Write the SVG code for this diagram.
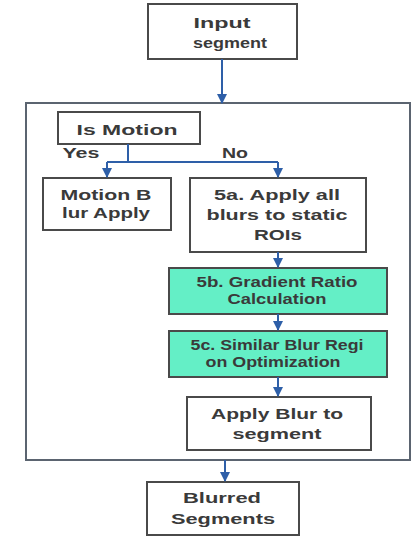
<svg xmlns="http://www.w3.org/2000/svg" width="411" height="538" viewBox="0 0 411 538">
<defs>
<style>
.box{fill:#ffffff;stroke:#4a4a4a;stroke-width:2}
.teal{fill:#64EFC6;stroke:#4a4a4a;stroke-width:2}
.frame{fill:#ffffff;stroke:#5b6470;stroke-width:2}
text{font-family:"Liberation Sans",Arial,sans-serif;font-weight:bold;font-size:15px;fill:#3a3a3a;text-anchor:middle}
.c{fill:none;stroke:#2E5FA8;stroke-width:2}
</style>
<marker id="ah" viewBox="0 0 10 10" refX="9" refY="5" markerWidth="5" markerHeight="5" orient="auto" markerUnits="strokeWidth">
<path d="M0,0 L10,5 L0,10 z" fill="#2E5FA8"/>
</marker>
</defs>
<rect width="411" height="538" fill="#ffffff"/>
<g id="container"><rect class="frame" x="26" y="103" width="384" height="357"/></g>
<g id="input"><rect class="box" x="148" y="4" width="149" height="55"/>
<text x="222" y="28" textLength="57" lengthAdjust="spacingAndGlyphs">Input</text>
<text x="230" y="48" textLength="74" lengthAdjust="spacingAndGlyphs">segment</text></g>
<g id="ismotion"><rect class="box" x="58" y="112" width="142" height="32"/>
<text x="127" y="135" textLength="101" lengthAdjust="spacingAndGlyphs">Is Motion</text></g>
<g id="motionblur"><rect class="box" x="43" y="178" width="128" height="52"/>
<text x="106" y="200" textLength="91" lengthAdjust="spacingAndGlyphs">Motion B</text>
<text x="106" y="218" textLength="88" lengthAdjust="spacingAndGlyphs">lur Apply</text></g>
<g id="n5a"><rect class="box" x="190" y="178" width="176" height="74"/>
<text x="277" y="200" textLength="126" lengthAdjust="spacingAndGlyphs">5a. Apply all</text>
<text x="277" y="220" textLength="141" lengthAdjust="spacingAndGlyphs">blurs to static</text>
<text x="278" y="240" textLength="48" lengthAdjust="spacingAndGlyphs">ROIs</text></g>
<g id="n5b"><rect class="teal" x="169" y="268" width="218" height="46"/>
<text x="277" y="287" textLength="161" lengthAdjust="spacingAndGlyphs">5b. Gradient Ratio</text>
<text x="277" y="304" textLength="99" lengthAdjust="spacingAndGlyphs">Calculation</text></g>
<g id="n5c"><rect class="teal" x="169" y="331" width="218" height="46"/>
<text x="277" y="350" textLength="173" lengthAdjust="spacingAndGlyphs">5c. Similar Blur Regi</text>
<text x="273" y="367" textLength="135" lengthAdjust="spacingAndGlyphs">on Optimization</text></g>
<g id="applyblur"><rect class="box" x="187" y="397" width="184" height="53"/>
<text x="277" y="419" textLength="132" lengthAdjust="spacingAndGlyphs">Apply Blur to</text>
<text x="277" y="439" textLength="89" lengthAdjust="spacingAndGlyphs">segment</text></g>
<g id="blurred"><rect class="box" x="147" y="482" width="152" height="53"/>
<text x="222" y="503" textLength="78" lengthAdjust="spacingAndGlyphs">Blurred</text>
<text x="223" y="524" textLength="104" lengthAdjust="spacingAndGlyphs">Segments</text></g>
<g id="labels">
<text x="81" y="158" textLength="37" lengthAdjust="spacingAndGlyphs">Yes</text>
<text x="235" y="158" textLength="26" lengthAdjust="spacingAndGlyphs">No</text>
</g>
<g id="connectors">
<path class="c" d="M222,59 V103" marker-end="url(#ah)"/>
<path class="c" d="M128,144 V162"/>
<path class="c" d="M107,162 H278"/>
<path class="c" d="M107,162 V177" marker-end="url(#ah)"/>
<path class="c" d="M278,162 V177" marker-end="url(#ah)"/>
<path class="c" d="M278,252 V267" marker-end="url(#ah)"/>
<path class="c" d="M278,314 V330" marker-end="url(#ah)"/>
<path class="c" d="M278,377 V396" marker-end="url(#ah)"/>
<path class="c" d="M225,460 V481" marker-end="url(#ah)"/>
</g>
</svg>
